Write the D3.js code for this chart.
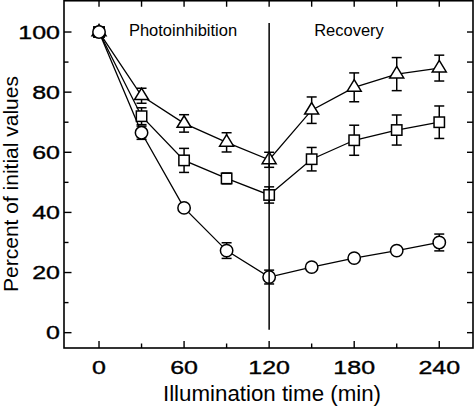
<!DOCTYPE html>
<html><head><meta charset="utf-8">
<script src="https://cdn.jsdelivr.net/npm/d3@7"></script>
<style>
html,body{margin:0;padding:0;background:#fff;}
svg{display:block;}
text{font-family:"Liberation Sans",Arial,sans-serif;fill:#000;}
</style></head>
<body>
<svg id="chart" width="475" height="407"></svg>
<script>
// Data
const times = [0, 30, 60, 90, 120, 150, 180, 210, 240];
const circleVals = [100, 66.5, 41.5, 27.3, 18.5, 21.8, 24.8, 27.3, 30.0];
const circleErr  = [1, 2.2, 1, 2.6, 2.3, 1, 1, 1, 2.8];
const squareVals = [100, 72.0, 57.3, 51.3, 45.8, 57.7, 64.0, 67.4, 70.0];
const squareErr  = [1, 2.8, 4.0, 1.8, 2.7, 3.9, 5.0, 5.0, 5.4];
const triVals    = [100, 78.8, 69.6, 63.3, 57.5, 74.0, 81.6, 86.0, 88.0];
const triErr     = [1, 2.5, 2.9, 3.2, 2.5, 4.4, 4.8, 5.5, 4.3];
const xTicks = [0, 60, 120, 180, 240];
const xMinor = [30, 90, 150, 210];
const yTicks = [0, 20, 40, 60, 80, 100];
const yMinor = [10, 30, 50, 70, 90];
const dividerTime = 120;
const dividerRange = [1, 103];

const svg = d3.select("#chart");
const L = 64, R = 473, T = 0.75, B = 348;
const x = d3.scaleLinear().domain([-24.7, 263.8]).range([L, R]);
const y = d3.scaleLinear().domain([-5.1, 110.4]).range([B, T]);

const g = svg.append("g");

// Frame
g.append("rect").attr("x", L).attr("y", T).attr("width", R - L).attr("height", B - T)
  .attr("fill", "none").attr("stroke", "#000").attr("stroke-width", 1.6);

// Ticks (inward)
const tk = g.append("g").attr("stroke", "#000").attr("stroke-width", 1.4);
xTicks.forEach(t => {
  tk.append("line").attr("x1", x(t)).attr("x2", x(t)).attr("y1", B).attr("y2", B - 7);
});
xMinor.forEach(t => {
  tk.append("line").attr("x1", x(t)).attr("x2", x(t)).attr("y1", B).attr("y2", B - 4.5);
});
xTicks.concat(xMinor).forEach(t => {
  tk.append("line").attr("x1", x(t)).attr("x2", x(t)).attr("y1", T).attr("y2", T + 6);
});
yTicks.forEach(v => {
  tk.append("line").attr("x1", L).attr("x2", L + 7.5).attr("y1", y(v)).attr("y2", y(v));
});
yMinor.forEach(v => {
  tk.append("line").attr("x1", L).attr("x2", L + 4.5).attr("y1", y(v)).attr("y2", y(v));
});
yTicks.concat(yMinor).forEach(v => {
  tk.append("line").attr("x1", R).attr("x2", R - 6).attr("y1", y(v)).attr("y2", y(v));
});

// Tick labels (wide digits)
const sx = 1.33;
xTicks.forEach(t => {
  g.append("text").attr("transform", `translate(${x(t)},374) scale(${sx},1)`)
    .attr("text-anchor", "middle").attr("font-size", 18.8)
    .attr("stroke", "#000").attr("stroke-width", 0.35).text(t);
});
yTicks.forEach(v => {
  g.append("text").attr("transform", `translate(60,${y(v) + 6.7}) scale(${sx},1)`)
    .attr("text-anchor", "end").attr("font-size", 18.8)
    .attr("stroke", "#000").attr("stroke-width", 0.35).text(v);
});

// Axis titles
g.append("text").attr("x", 272).attr("y", 401).attr("text-anchor", "middle")
  .attr("font-size", 22.3).text("Illumination time (min)");
g.append("text").attr("transform", "translate(18,184) rotate(-90)")
  .attr("text-anchor", "middle").attr("font-size", 21).text("Percent of initial values");

// Annotations
g.append("text").attr("x", 183).attr("y", 36).attr("text-anchor", "middle")
  .attr("font-size", 16.5).text("Photoinhibition");
g.append("text").attr("x", 349).attr("y", 36).attr("text-anchor", "middle")
  .attr("font-size", 16.5).text("Recovery");

// Series
const series = [
  {vals: triVals, err: triErr, shape: "tri"},
  {vals: squareVals, err: squareErr, shape: "sq"},
  {vals: circleVals, err: circleErr, shape: "circ"}
];
const lineGen = d3.line().x((d, i) => x(times[i])).y(d => y(d));

series.forEach(s => {
  g.append("path").attr("d", lineGen(s.vals)).attr("fill", "none")
    .attr("stroke", "#000").attr("stroke-width", 1.3);
});
series.forEach(s => {
  const eg = g.append("g").attr("stroke", "#000").attr("stroke-width", 1.5);
  s.vals.forEach((v, i) => {
    const cx = x(times[i]);
    const y1 = y(v + s.err[i]), y2 = y(v - s.err[i]);
    eg.append("line").attr("x1", cx).attr("x2", cx).attr("y1", y1).attr("y2", y2);
    eg.append("line").attr("x1", cx - 5).attr("x2", cx + 5).attr("y1", y1).attr("y2", y1);
    eg.append("line").attr("x1", cx - 5).attr("x2", cx + 5).attr("y1", y2).attr("y2", y2);
  });
});
series.forEach(s => {
  const mg = g.append("g").attr("stroke", "#000").attr("stroke-width", 1.5).attr("fill", "#fff");
  s.vals.forEach((v, i) => {
    const cx = x(times[i]), cy = y(v);
    if (s.shape === "circ") {
      mg.append("circle").attr("cx", cx).attr("cy", cy).attr("r", 6.2);
    } else if (s.shape === "sq") {
      mg.append("rect").attr("x", cx - 5.2).attr("y", cy - 5.2).attr("width", 10.4).attr("height", 10.4);
    } else {
      const h = 11.5, w = 14;
      mg.append("path").attr("d",
        `M${cx},${cy - h * 2 / 3} L${cx + w / 2},${cy + h / 3} L${cx - w / 2},${cy + h / 3} Z`);
    }
  });
});

// Divider line
g.append("line").attr("x1", x(dividerTime)).attr("x2", x(dividerTime))
  .attr("y1", y(dividerRange[1])).attr("y2", y(dividerRange[0]))
  .attr("stroke", "#000").attr("stroke-width", 1.5);
</script>
</body></html>
